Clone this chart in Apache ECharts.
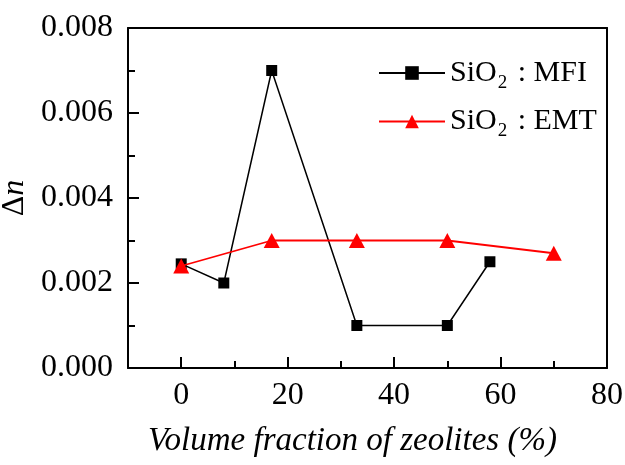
<!DOCTYPE html>
<html>
<head>
<meta charset="utf-8">
<script src="https://cdn.jsdelivr.net/npm/echarts@6/dist/echarts.min.js"></script>
<style>
  html, body { margin: 0; padding: 0; background: #fff; }
  #chart { width: 625px; height: 465px; }
</style>
</head>
<body>
<div id="chart"></div>
<script>
// volume fraction of zeolites (%)
const mfiX = [0, 8, 17, 33, 50, 58]
const mfiY = [0.00245, 0.002, 0.007, 0.001, 0.001, 0.0025]
const emtX = [0, 17, 33, 50, 70]
const emtY = [0.0024, 0.003, 0.003, 0.003, 0.0027]

const xLabels = [0, 20, 40, 60, 80]

const seriesNames = ['SiO2 : MFI', 'SiO2 : EMT']

const font = '"Times New Roman", "Liberation Serif", serif'

function pairs(xs, ys) {
  return xs.map((x, i) => [x, ys[i]])
}

const plotHeight = 465 - 28 - 97
// keep split lines on but invisible
const hiddenSplit = { show: true, lineStyle: { color: 'rgba(0,0,0,0)' } }

const chart = echarts.init(document.getElementById('chart'))

const option = {
  animation: false,
  textStyle: { fontFamily: font, color: '#000' },
  grid: {
    left: 128, right: 18, top: 28, bottom: 97,
    outerBoundsMode: 'none'
  },
  legend: {
    orient: 'vertical',
    left: 373,
    top: 53,
    itemWidth: 66,
    itemHeight: 17,
    itemGap: 14,
    data: seriesNames,
    formatter: function (name) {
      return name.replace('SiO2', 'SiO{sub|2}')
    },
    textStyle: {
      fontFamily: font,
      fontSize: 30,
      color: '#000',
      rich: {
        sub: { fontFamily: font, fontSize: 19, color: '#000', padding: [20, 3, 0, 1] }
      }
    }
  },
  xAxis: [{
    // data axis: labels + short ticks every 10
    type: 'value',
    position: 'bottom',
    min: -10,
    max: 80,
    interval: 10,
    name: 'Volume fraction of zeolites (%)',
    nameLocation: 'middle',
    nameGap: 57,
    nameTextStyle: { fontFamily: font, fontSize: 33, fontStyle: 'italic', color: '#000', padding: [0, 30, 0, 0] },
    splitLine: hiddenSplit,
    axisLine: { show: true, onZero: false, lineStyle: { color: '#000', width: 2 } },
    axisTick: { show: true, inside: true, length: 7, lineStyle: { color: '#000', width: 2 } },
    axisLabel: {
      show: true, fontFamily: font, fontSize: 32, color: '#000', margin: 12,
      formatter: v => xLabels.includes(v) ? String(v) : ''
    }
  }, {
    // top frame line
    type: 'value',
    position: 'top',
    min: -10,
    max: 80,
    splitLine: { show: false },
    axisLine: { show: true, onZero: false, lineStyle: { color: '#000', width: 2 } },
    axisTick: { show: false },
    axisLabel: { show: false }
  }, {
    // longer ticks at 0, 20, 40, 60: same scale flipped (x' = -x) and moved down to the bottom edge
    type: 'value',
    position: 'top',
    offset: -plotHeight,
    inverse: true,
    min: -80,
    max: 10,
    interval: 20,
    splitLine: hiddenSplit,
    axisLine: { show: false, onZero: false },
    axisTick: { show: true, inside: false, length: 11, lineStyle: { color: '#000', width: 2 } },
    axisLabel: { show: false }
  }],
  yAxis: [{
    type: 'value',
    position: 'left',
    min: 0,
    max: 0.008,
    interval: 0.002,
    name: 'Δ{i|n}',
    nameLocation: 'middle',
    nameGap: 90,
    nameRotate: 90,
    nameTextStyle: {
      fontFamily: font, fontSize: 32, color: '#000',
      rich: { i: { fontFamily: font, fontSize: 32, fontStyle: 'italic', color: '#000' } }
    },
    splitLine: hiddenSplit,
    axisLine: { show: true, onZero: false, lineStyle: { color: '#000', width: 2 } },
    axisTick: { show: true, inside: true, length: 11, lineStyle: { color: '#000', width: 2 } },
    minorTick: { show: true, splitNumber: 2, length: 7, lineStyle: { color: '#000', width: 2 } },
    axisLabel: {
      show: true, fontFamily: font, fontSize: 32, color: '#000', margin: 15,
      formatter: v => v.toFixed(3)
    }
  }, {
    // right frame line
    type: 'value',
    position: 'right',
    min: 0,
    max: 0.008,
    splitLine: { show: false },
    axisLine: { show: true, onZero: false, lineStyle: { color: '#000', width: 2 } },
    axisTick: { show: false },
    axisLabel: { show: false }
  }],
  series: [{
    name: seriesNames[0],
    type: 'line',
    data: pairs(mfiX, mfiY),
    symbol: 'rect',
    symbolSize: 11,
    itemStyle: { color: '#000' },
    lineStyle: { color: '#000', width: 1.5 },
    z: 2
  }, {
    name: seriesNames[1],
    type: 'line',
    data: pairs(emtX, emtY),
    symbol: 'triangle',
    symbolSize: [16, 15],
    itemStyle: { color: '#f00' },
    lineStyle: { color: '#f00', width: 1.8 },
    z: 3
  }]
}

chart.setOption(option)
</script>
</body>
</html>
